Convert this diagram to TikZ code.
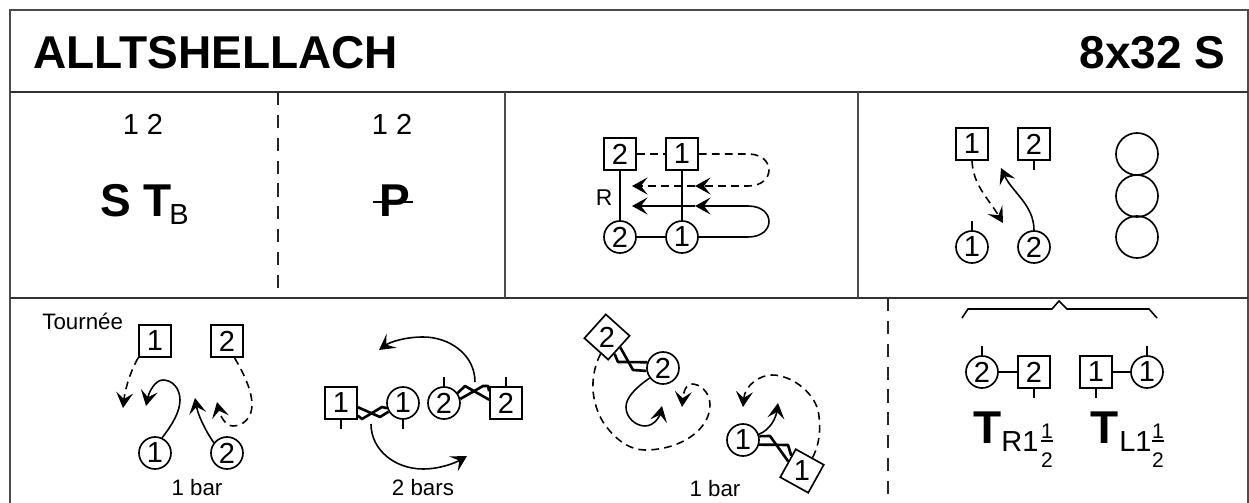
\documentclass[tikz,border=0pt]{standalone}
\usepackage{fontspec}
\setmainfont{Liberation Sans}
\usetikzlibrary{arrows.meta}
\tikzset{
  dancer/.style={draw, line width=0.95pt, minimum size=0.64cm, inner sep=0pt, font=\fontsize{16.5}{18}\selectfont},
  man/.style={dancer, rectangle},
  lady/.style={dancer, circle},
  ring/.style={draw, circle, line width=0.95pt, minimum size=0.84cm},
  tick/.style={line width=0.85pt},
  frame/.style={line width=1.1pt, black!70},
  rowline/.style={line width=1.2pt, black!80},
  cutline/.style={line width=0.9pt, black!85, dash pattern=on 7.5pt off 5.5pt},
  track/.style={line width=0.9pt, -{Stealth[length=3.1mm, width=3.4mm, inset=1.3mm]}},
  dashtrack/.style={track, dash pattern=on 4.4pt off 3pt},
  hand/.style={line width=1.5pt, line join=round},
  hold/.style={line width=1.7pt},
  big/.style={inner sep=0pt, anchor=base west, font=\fontsize{26.2}{28}\bfseries\selectfont},
  sub/.style={inner sep=0pt, anchor=base west, font=\fontsize{16.5}{18}\selectfont},
  small/.style={inner sep=0pt, font=\fontsize{12.7}{14}\selectfont},
  frac/.style={inner sep=0pt, font=\fontsize{12}{14}\selectfont}
}
\begin{document}
\begin{tikzpicture}[x=0.02cm, y=-0.02cm]
\useasboundingbox (0,0) rectangle (1249,503);

% frame
\draw[frame] (10,503) -- (10,10) -- (1248,10) -- (1248,503);
\draw[rowline] (10,92) -- (1248,92);
\draw[rowline] (10,298) -- (1248,298);
\draw[frame] (505,92) -- (505,298);
\draw[frame] (858,92) -- (858,298);
\draw[cutline] (278,92) -- (278,292);
\draw[cutline] (888,298) -- (888,503);

% title
\node[big] (title) at (33,69) {ALLTSHELLACH};
\node[big, anchor=base east] (form) at (1226,69) {8x32 S};

% first cell
\node[sub, anchor=center] (bars1) at (143,124) {1 2};
\node[sub, anchor=center] (bars2) at (392,124) {1 2};
\node[big] (st) at (100,217) {S T};
\node[sub] (stb) at (169,225) {B};
\node[big] (pas) at (379,217) {P};
\draw[line width=0.9pt] (373,202) -- (413,202);

% promenade
\node[man] (pm2) at (620,154) {2};
\node[man] (pm1) at (682,154) {1};
\node[lady] (pl2) at (620,237) {2};
\node[lady] (pl1) at (682,237) {1};
\node[inner sep=0pt, font=\fontsize{13}{14}\selectfont] (pr) at (604,198) {R};
\draw[hold] (pm2) -- (pl2);
\draw[hold] (pm1) -- (pl1);
\draw[line width=0.9pt, dash pattern=on 4.4pt off 3pt] (pm2) -- (pm1);
\draw[line width=0.9pt] (pl2) -- (pl1);
\coordinate (pa1) at (695,186);
\coordinate (pa2) at (632,186);
\coordinate (pb1) at (695,206);
\coordinate (pb2) at (632,206);
\draw[dashtrack] (pm1.east) -- (748,154) .. controls (776,154) and (776,186) .. (748,186) -- (pa1);
\draw[dashtrack] (pa1) -- (pa2);
\draw[track] (pl1.east) -- (748,237) .. controls (776,237) and (776,206) .. (748,206) -- (pb1);
\draw[track] (pb1) -- (pb2);

% cross over
\node[man] (xm1) at (972,144) {1};
\node[man] (xm2) at (1034,144) {2};
\node[lady] (xl1) at (972,247) {1};
\node[lady] (xl2) at (1034,247) {2};
\draw[tick] (xm2.south) -- ++(0,9);
\draw[tick] (xl1.north) -- ++(0,-9);
\coordinate (xa) at (1003,223);
\coordinate (xb) at (1001,168);
\draw[dashtrack] (xm1.south) .. controls (973,185) and (988,198) .. (xa);
\draw[track] (xl2.north) .. controls (1034,205) and (1012,192) .. (xb);
\node[ring] (ring1) at (1137,154) {};
\node[ring] (ring2) at (1137,196) {};
\node[ring] (ring3) at (1137,237) {};

% tournee, 1 bar
\node[small, anchor=west] (tour) at (42,321) {Tournée};
\node[man] (am1) at (155,341) {1};
\node[man] (am2) at (227,341) {2};
\node[lady] (al1) at (155,453) {1};
\node[lady] (al2) at (227,453) {2};
\node[small] (abar) at (197,488) {1 bar};
\coordinate (aa) at (123,408);
\coordinate (ab) at (146,406);
\coordinate (ac) at (195,398);
\coordinate (ad) at (217,402);
\draw[dashtrack] (am1.south west) .. controls (130,372) and (125,390) .. (aa);
\draw[track] (al1.65) .. controls (172,425) and (180,412) .. (180,400) .. controls (180,388) and (172,380) .. (163,380) .. controls (155,380) and (149,392) .. (ab);
\draw[track] (al2.142) .. controls (205,430) and (198,415) .. (ac);
\draw[dashtrack] (am2.-66) .. controls (243,372) and (252,390) .. (252,405) .. controls (252,418) and (243,426) .. (233,426) .. controls (225,426) and (220,415) .. (ad);

% allemande, 2 bars
\node[man] (bm1) at (341,403) {1};
\node[lady] (bl1) at (403,403) {1};
\node[lady] (bl2) at (444,403) {2};
\node[man] (bm2) at (506,403) {2};
\node[small] (bbar) at (423,488) {2 bars};
\draw[tick] (bm1.south) -- ++(0,9);
\draw[tick] (bl1.south) -- ++(0,9);
\draw[tick] (bl2.north) -- ++(0,-9);
\draw[tick] (bm2.north) -- ++(0,-9);
\draw[hand] (bm1.-14) -- (380,417) -- (bl1.211);
\draw[hand] (bm1.-37) -- (362,419) -- (382,407) -- (bl1.198);
\draw[hand] (bl2.36) -- (465,386) -- (bm2.169);
\draw[hand] (bl2.14) -- (483,386) -- (488,386) -- (bm2.145);
\coordinate (ba) at (475,382);
\coordinate (bb) at (379,350);
\coordinate (bc) at (371,424);
\coordinate (bd) at (467,456);
\draw[track] (ba) .. controls (475,355) and (450,337) .. (423,337) .. controls (405,337) and (390,342) .. (bb);
\draw[track] (bc) .. controls (371,450) and (395,469) .. (423,469) .. controls (440,469) and (455,463) .. (bd);

% turn, 1 bar
\node[man, rotate=-42] (cm2) at (607,337) {\rotatebox{42}{2}};
\node[lady] (cl2) at (663,368) {2};
\node[lady] (cl1) at (743,440) {1};
\node[man, rotate=-29] (cm1) at (802,471) {\rotatebox{29}{1}};
\node[small] (cbar) at (715,489) {1 bar};
\draw[hand] (cm2.4) -- (633,370) -- (cl2.190);
\draw[hand] (cm2.-24) -- (618,362) -- (cl2.160);
\draw[hand] (cl1.13) -- (770,436) -- (cm1.174);
\draw[hand] (cl1.-16) -- (788,445) -- (cm1.154);
\coordinate (ca) at (682,407);
\coordinate (cb) at (662,406);
\coordinate (cc) at (743,407);
\coordinate (cd) at (778,403);
\draw[dashtrack] (cm2.-69) .. controls (590,375) and (590,400) .. (603,422) .. controls (615,440) and (630,450) .. (645,450) .. controls (680,450) and (710,430) .. (710,405) .. controls (710,392) and (700,384) .. (692,384) .. controls (685,384) and (683,395) .. (ca);
\draw[track] (cl2.217) .. controls (635,388) and (626,398) .. (626,407) .. controls (626,418) and (636,426) .. (645,426) .. controls (655,426) and (660,415) .. (cb);
\draw[dashtrack] (cm1.81) .. controls (822,440) and (820,420) .. (818,410) .. controls (812,390) and (790,375) .. (772,375) .. controls (760,375) and (745,385) .. (cc);
\draw[track] (cl1.20) .. controls (770,430) and (776,418) .. (cd);

% turn key
\draw[line width=0.9pt] (962,318) -- (968,309) -- (1052,309) -- (1059,301) -- (1067,309) -- (1149,309) -- (1157,318);
\node[lady] (dl2) at (982,372) {2};
\node[man] (dm2) at (1034,372) {2};
\node[man] (dm1) at (1096,372) {1};
\node[lady] (dl1) at (1147,372) {1};
\draw[hold] (dl2) -- (dm2);
\draw[hold] (dm1) -- (dl1);
\draw[tick] (dl2.north) -- ++(0,-9);
\draw[tick] (dm2.south) -- ++(0,9);
\draw[tick] (dm1.south) -- ++(0,9);
\draw[tick] (dl1.north) -- ++(0,-9);
\node[big] (tr) at (973,444) {T};
\node[sub] (trs) at (1001,452) {R1};
\node[frac] (trn) at (1047,431) {1};
\node[frac] (trd) at (1047,460) {2};
\draw[line width=0.7pt] (1041,441) -- (1053,441);
\node[big] (tl) at (1090,444) {T};
\node[sub] (tls) at (1119,452) {L1};
\node[frac] (tln) at (1158,431) {1};
\node[frac] (tld) at (1158,460) {2};
\draw[line width=0.7pt] (1152,441) -- (1164,441);
\end{tikzpicture}
\end{document}
